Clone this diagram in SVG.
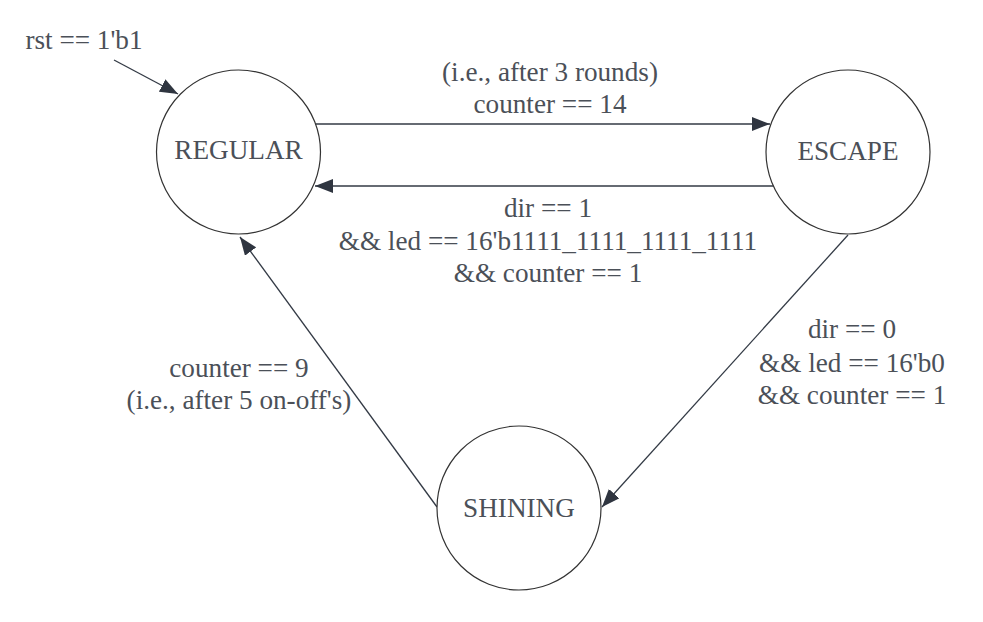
<svg xmlns="http://www.w3.org/2000/svg" width="983" height="622" viewBox="0 0 983 622">
<style>
.node{fill:#fff;stroke:#333;stroke-width:1.2}
.edge{fill:none;stroke:#333a45;stroke-width:1.3}
text{font-family:"Liberation Serif","Times New Roman",serif;font-size:27.2px;fill:#4b5058;text-anchor:middle}
</style>
<defs>
<marker id="ah" markerUnits="userSpaceOnUse" markerWidth="20" markerHeight="14" refX="18" refY="7" orient="auto">
<path d="M0,0 L18,7 L0,14 Z" fill="#2f3540"/>
</marker>
</defs>
<rect width="983" height="622" fill="#fff"/>
<g id="connectors">
<line class="edge" x1="114" y1="60" x2="178" y2="94" marker-end="url(#ah)"/>
<line class="edge" x1="316" y1="124" x2="770" y2="124" marker-end="url(#ah)"/>
<line class="edge" x1="776" y1="186" x2="315" y2="186" marker-end="url(#ah)"/>
<line class="edge" x1="848" y1="235" x2="602" y2="507" marker-end="url(#ah)"/>
<line class="edge" x1="437" y1="507" x2="240" y2="237" marker-end="url(#ah)"/>
<text x="84" y="49">rst == 1'b1</text>
<text x="550" y="81">(i.e., after 3 rounds)</text>
<text x="550" y="113">counter == 14</text>
<text x="548" y="217">dir == 1</text>
<text x="548" y="250">&amp;&amp; led == 16'b1111_1111_1111_1111</text>
<text x="548" y="282">&amp;&amp; counter == 1</text>
<text x="852" y="338">dir == 0</text>
<text x="852" y="372">&amp;&amp; led == 16'b0</text>
<text x="852" y="404">&amp;&amp; counter == 1</text>
<text x="239" y="377">counter == 9</text>
<text x="239" y="409">(i.e., after 5 on-off's)</text>
</g>
<g id="regular">
<circle class="node" cx="238.5" cy="152" r="82"/>
<text x="238.5" y="159">REGULAR</text>
</g>
<g id="escape">
<circle class="node" cx="848" cy="152" r="82"/>
<text x="848" y="160">ESCAPE</text>
</g>
<g id="shining">
<circle class="node" cx="519" cy="508" r="82"/>
<text x="519" y="517">SHINING</text>
</g>
</svg>
